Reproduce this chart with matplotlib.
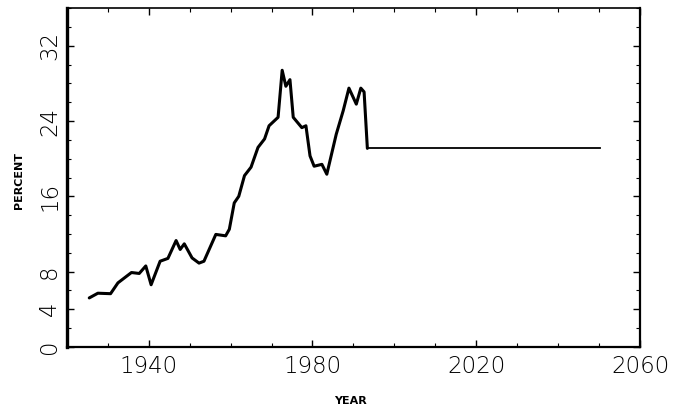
import numpy as np
import matplotlib.pyplot as plt
from matplotlib.ticker import MultipleLocator

# 年別の比率（実績）
years = [1925.5, 1927.6, 1930.7, 1932.5, 1935.8, 1937.7, 1939.3, 1940.6,
         1942.8, 1944.7, 1946.7, 1947.7, 1948.7, 1950.6, 1952.3, 1953.5,
         1956.4, 1958.8, 1959.7, 1960.9, 1962.0, 1963.4, 1965.0, 1966.7,
         1968.3, 1969.4, 1971.6, 1972.6, 1973.5, 1974.5, 1975.3, 1977.4,
         1978.4, 1979.4, 1980.4, 1982.3, 1983.5, 1985.8, 1987.5, 1988.9,
         1990.7, 1991.8, 1992.6, 1993.4]
percent = [5.2, 5.7, 5.65, 6.8, 7.9, 7.8, 8.6, 6.6,
           9.1, 9.4, 11.3, 10.35, 10.95, 9.45, 8.9, 9.1,
           11.95, 11.8, 12.5, 15.3, 16.0, 18.2, 19.1, 21.2,
           22.1, 23.5, 24.4, 29.4, 27.7, 28.4, 24.4, 23.3,
           23.5, 20.3, 19.2, 19.4, 18.35, 22.6, 25.1, 27.5,
           25.8, 27.5, 27.1, 21.1]

# 将来（一定と仮定）
proj_years = [1993.4, 2050.3]
proj_percent = [21.1, 21.1]

xticks = [1940, 1980, 2020, 2060]
yticks = [0, 4, 8, 16, 24, 32]

plt.rcParams['font.family'] = ['DejaVu Sans']

fig = plt.figure(figsize=(6.81, 4.09), dpi=100)
ax = fig.add_axes([0.098, 0.152, 0.842, 0.828])

ax.plot(years, percent, color='black', lw=2.2, solid_joinstyle='round', solid_capstyle='round')
ax.plot(proj_years, proj_percent, color='black', lw=1.3)

ax.set_xlim(1920, 2060)
ax.set_ylim(0, 36)

ax.set_xticks(xticks)
ax.set_yticks(yticks)
ax.xaxis.set_minor_locator(MultipleLocator(10))
ax.yaxis.set_minor_locator(MultipleLocator(2))
ax.tick_params(which='both', direction='in', top=True, right=True, color='black')
ax.tick_params(which='major', length=5, width=1.0, pad=6)
ax.tick_params(which='minor', length=3, width=0.8)
ax.tick_params(axis='x', labelsize=16.5)
ax.tick_params(axis='y', labelsize=16.5, pad=4)

for lab in ax.get_xticklabels():
    lab.set_fontweight('light')
for lab in ax.get_yticklabels():
    lab.set_rotation(90)
    lab.set_va('center')
    lab.set_fontweight('light')

ax.spines['left'].set_linewidth(2.4)
ax.spines['right'].set_linewidth(1.6)
ax.spines['bottom'].set_linewidth(1.6)
ax.spines['top'].set_linewidth(1.2)

ax.set_xlabel('YEAR', fontsize=8, fontweight='bold', labelpad=8)
ax.set_ylabel('PERCENT', fontsize=8, fontweight='bold', labelpad=8)
ax.yaxis.set_label_coords(-0.075, 0.49)
ax.xaxis.set_label_coords(0.495, -0.145)

fig.savefig('out.png', dpi=100)
plt.close(fig)
